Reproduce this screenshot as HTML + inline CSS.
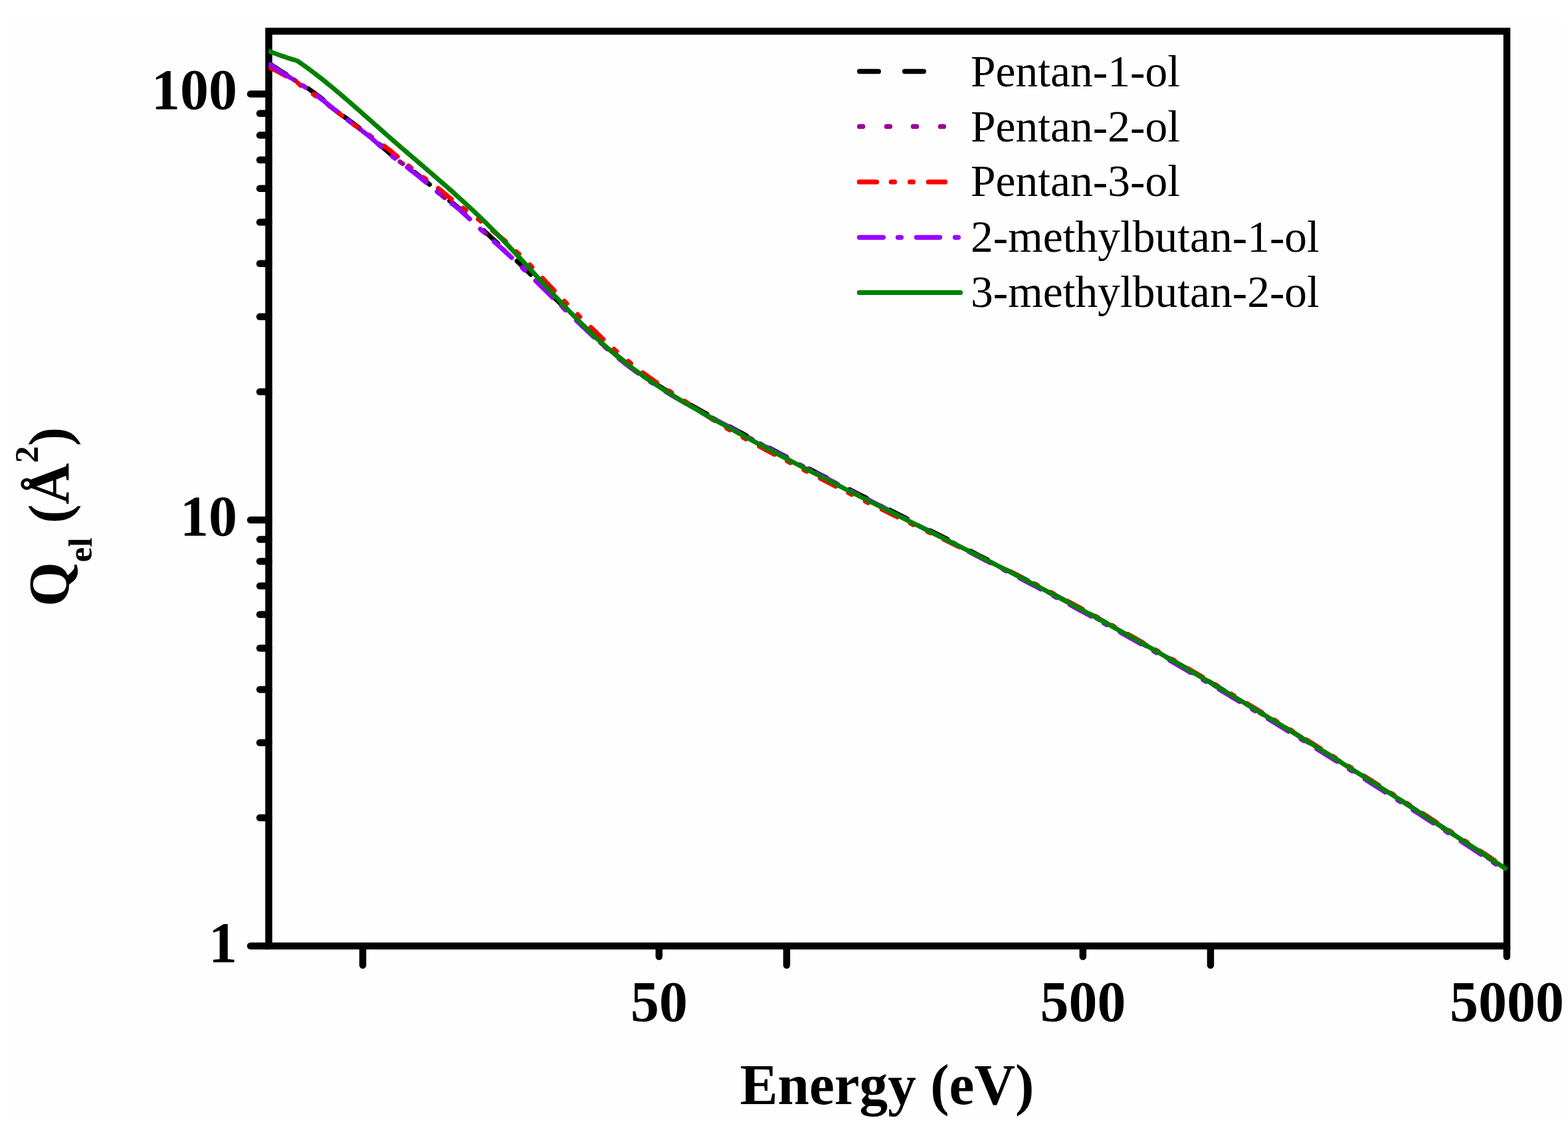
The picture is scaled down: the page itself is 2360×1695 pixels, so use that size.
<!DOCTYPE html>
<html><head><meta charset="utf-8"><style>html,body{margin:0;padding:0;background:#fff;overflow:hidden}svg{display:block}</style></head>
<body><svg width="2360" height="1695" viewBox="0 0 2360 1695">
<rect width="2360" height="1695" fill="#fff"/>
<rect x="14" y="32" width="2338" height="1657" fill="#fefefe"/>
<rect x="404.5" y="47" width="1863.5" height="1377" fill="none" stroke="#000" stroke-width="10.5" stroke-linejoin="miter"/>
<path d="M404.5,1424.0H377.0M404.5,1231.0H391.0M404.5,1118.0H391.0M404.5,1037.9H391.0M404.5,975.8H391.0M404.5,925.0H391.0M404.5,882.1H391.0M404.5,844.9H391.0M404.5,812.1H391.0M404.5,782.8H377.0M404.5,589.7H391.0M404.5,476.8H391.0M404.5,396.7H391.0M404.5,334.5H391.0M404.5,283.8H391.0M404.5,240.8H391.0M404.5,203.6H391.0M404.5,170.8H391.0M404.5,141.5H377.0M546.0,1424V1453M991.9,1424V1440M1184.0,1424V1453M1629.9,1424V1440M1822.0,1424V1453M2267.9,1424V1440" stroke="#000" stroke-width="10.5" stroke-linecap="round" fill="none"/>
<defs><clipPath id="cp"><rect x="404" y="0" width="1865" height="1695"/></clipPath><clipPath id="cp2"><rect x="404" y="0" width="1862" height="1695"/></clipPath></defs>
<g fill="none" stroke-width="7.0" stroke-linejoin="round">
<g clip-path="url(#cp2)">
<path d="M404.0,94.3 408.0,97.1 412.0,99.8 416.0,102.5 420.0,105.1 424.0,107.7 428.0,110.3 432.0,112.8 436.0,115.3 440.0,117.7 444.0,120.1 447.2,122.0 450.0,124.0 453.0,125.9 456.0,127.9 459.0,129.9 462.0,131.9 465.0,134.0 468.0,136.2 471.0,138.4 474.0,140.6 477.0,142.8 480.0,145.1 483.0,147.4 486.0,149.8 489.0,152.1 492.0,154.5 495.0,156.9 498.0,159.3 501.0,161.7 504.0,164.1 507.0,166.6 510.0,169.0 513.0,171.5 516.0,174.0 519.0,176.4 522.0,178.6 525.0,180.8 528.0,183.0 531.0,185.3 534.0,187.5 537.0,189.7 540.0,192.0 543.0,194.2 546.0,196.5 549.0,198.8 552.0,201.1 555.0,203.3 558.0,205.7 561.0,208.4 564.0,211.1 567.0,213.7 570.0,216.4 573.0,219.0 576.0,221.7 579.0,224.3 582.0,227.0 585.0,229.6 588.0,232.2 591.0,234.6 594.0,236.7 597.0,238.9 600.0,241.0 603.0,243.2 606.0,245.3 609.0,247.4 612.0,249.8 615.0,252.2 618.0,254.5 621.0,256.9 624.0,259.2 627.0,261.5 630.0,263.9 633.0,266.4 636.0,268.9 639.0,271.4 642.0,273.9 645.0,276.5 648.0,279.0 651.0,281.5 654.0,284.0 657.0,286.5 660.0,289.1 663.0,291.6 666.0,294.1 669.0,296.6 672.0,298.8 675.0,301.1 678.0,303.3 681.0,305.6 684.0,307.9 687.0,310.2 690.0,312.8 693.0,315.2 696.0,317.6 699.0,320.0 702.0,322.7 705.0,325.5 708.0,328.2 711.0,331.0 714.0,333.9 717.0,336.7 720.0,339.6 723.0,342.3 726.0,345.0 729.0,347.8 732.0,350.5 735.0,353.3 738.0,356.1 741.0,359.0 744.0,361.6 747.0,364.3 750.0,367.0 753.0,369.7 756.0,372.4 759.0,375.1 762.0,377.9 765.0,380.7 768.0,383.4 771.0,386.3 774.0,389.1 777.0,392.0 780.0,394.9 783.0,397.8 786.0,400.7 789.0,403.6 792.0,406.5 795.0,409.4 798.0,412.3 801.0,415.2 804.0,418.2 807.0,421.1 810.0,424.1 813.0,427.1 816.0,430.0 819.0,433.0 822.0,436.0 825.0,438.9 828.0,441.9 831.0,444.8 834.0,447.7 837.0,450.7 840.0,453.6 843.0,456.5 846.0,459.4 849.0,462.4 852.0,465.3 855.0,468.2 858.0,471.1 861.0,474.0 864.0,476.9 867.0,479.8 870.0,482.6 873.0,485.4 876.0,488.2 879.0,491.0 882.0,493.8 885.0,496.7 888.0,499.6 891.0,502.4 894.0,505.2 897.0,508.0 900.0,510.8 903.0,513.5 906.0,516.1 909.0,518.8 912.0,521.4 915.0,524.0 918.0,526.5 921.0,529.0 924.0,531.5 927.0,534.0 930.0,536.4 933.0,538.8 936.0,541.2 939.0,543.5 942.0,545.8 945.0,548.1 948.0,550.4 951.0,552.6 954.0,554.8 957.0,557.0 960.0,559.2 963.0,561.3 966.0,563.5 969.0,565.6 972.0,567.6 975.0,569.7 978.0,571.7 981.0,573.7 984.0,575.7 987.0,577.7 990.0,579.7 993.0,581.6 996.0,583.5 999.0,585.5 1000.0,586.1 1008.0,591.0 1016.0,595.9 1024.0,600.6 1032.0,605.3 1040.0,609.9 1048.0,614.4 1056.0,618.9 1064.0,623.3 1072.0,627.8 1080.0,632.1 1088.0,636.5 1096.0,640.8 1104.0,645.2 1112.0,649.6 1120.0,653.9 1128.0,658.3 1136.0,662.6 1144.0,666.9 1152.0,671.2 1160.0,675.4 1168.0,679.7 1176.0,683.9 1184.0,688.1 1192.0,692.3 1200.0,696.5 1208.0,700.6 1216.0,704.8 1224.0,708.9 1232.0,713.0 1240.0,717.1 1248.0,721.2 1256.0,725.3 1264.0,729.4 1272.0,733.5 1280.0,737.5 1288.0,741.6 1296.0,745.6 1304.0,749.7 1312.0,753.8 1320.0,757.8 1328.0,761.9 1336.0,766.0 1344.0,770.1 1352.0,774.1 1360.0,778.2 1368.0,782.3 1376.0,786.3 1384.0,790.4 1392.0,794.5 1400.0,798.5 1408.0,802.6 1416.0,806.7 1424.0,810.7 1432.0,814.8 1440.0,818.9 1448.0,823.0 1456.0,827.1 1464.0,831.2 1472.0,835.3 1480.0,839.4 1488.0,843.5 1496.0,847.7 1504.0,851.8 1512.0,855.9 1520.0,860.1 1528.0,864.2 1536.0,868.4 1544.0,872.6 1552.0,876.8 1560.0,881.0 1568.0,885.2 1576.0,889.5 1584.0,893.7 1592.0,898.0 1600.0,902.3 1608.0,906.6 1616.0,910.9 1624.0,915.2 1632.0,919.5 1640.0,923.9 1648.0,928.3 1656.0,932.6 1664.0,937.1 1672.0,941.5 1680.0,945.9 1688.0,950.4 1696.0,954.8 1704.0,959.3 1712.0,963.8 1720.0,968.4 1728.0,972.9 1736.0,977.5 1744.0,982.0 1752.0,986.6 1760.0,991.2 1768.0,995.8 1776.0,1000.5 1784.0,1005.1 1792.0,1009.8 1800.0,1014.5 1808.0,1019.2 1816.0,1023.9 1824.0,1028.6 1832.0,1033.3 1840.0,1038.1 1848.0,1042.9 1856.0,1047.6 1864.0,1052.4 1872.0,1057.2 1880.0,1062.1 1888.0,1066.9 1896.0,1071.7 1904.0,1076.6 1912.0,1081.5 1920.0,1086.4 1928.0,1091.3 1936.0,1096.2 1944.0,1101.1 1952.0,1106.0 1960.0,1111.0 1968.0,1115.9 1976.0,1120.9 1984.0,1125.9 1992.0,1130.9 2000.0,1135.9 2008.0,1140.9 2016.0,1145.9 2024.0,1151.0 2032.0,1156.0 2040.0,1161.1 2048.0,1166.1 2056.0,1171.2 2064.0,1176.3 2072.0,1181.4 2080.0,1186.5 2088.0,1191.6 2096.0,1196.8 2104.0,1201.9 2112.0,1207.0 2120.0,1212.2 2128.0,1217.4 2136.0,1222.5 2144.0,1227.7 2152.0,1232.9 2160.0,1238.1 2168.0,1243.3 2176.0,1248.5 2184.0,1253.7 2192.0,1259.0 2200.0,1264.2 2208.0,1269.4 2216.0,1274.7 2224.0,1279.9 2232.0,1285.2 2240.0,1290.5 2248.0,1295.7 2256.0,1301.0 2264.0,1306.3 2268.0,1309.0" stroke="#000" stroke-linecap="round" stroke-dasharray="29.00 39.00" stroke-dashoffset="-3.5"/>
<path d="M404.0,95.3 408.0,98.1 412.0,100.8 416.0,103.5 420.0,106.1 424.0,108.7 428.0,111.3 432.0,113.8 436.0,116.3 440.0,118.7 444.0,121.1 447.2,123.0 450.0,125.0 453.0,126.9 456.0,128.9 459.0,130.9 462.0,132.9 465.0,135.0 468.0,137.2 471.0,139.4 474.0,141.6 477.0,143.8 480.0,146.1 483.0,148.4 486.0,150.8 489.0,153.1 492.0,155.5 495.0,157.9 498.0,160.3 501.0,162.7 504.0,165.1 507.0,167.6 510.0,170.0 513.0,172.5 516.0,175.0 519.0,177.4 522.0,179.6 525.0,181.8 528.0,184.0 531.0,186.3 534.0,188.5 537.0,190.7 540.0,193.0 543.0,195.2 546.0,197.5 549.0,199.8 552.0,202.1 555.0,204.3 558.0,206.7 561.0,209.4 564.0,212.1 567.0,214.7 570.0,217.4 573.0,220.0 576.0,222.7 579.0,225.3 582.0,228.0 585.0,230.6 588.0,233.2 591.0,235.6 594.0,237.7 597.0,239.9 600.0,242.0 603.0,244.2 606.0,246.3 609.0,248.4 612.0,250.8 615.0,253.2 618.0,255.5 621.0,257.9 624.0,260.2 627.0,262.5 630.0,264.9 633.0,267.4 636.0,269.9 639.0,272.4 642.0,274.9 645.0,277.5 648.0,280.0 651.0,282.5 654.0,285.0 657.0,287.5 660.0,290.1 663.0,292.6 666.0,295.1 669.0,297.6 672.0,299.8 675.0,302.1 678.0,304.3 681.0,306.6 684.0,308.9 687.0,311.2 690.0,313.8 693.0,316.5 696.0,319.2 699.0,321.9 702.0,324.7 705.0,327.4 708.0,330.2 711.0,333.0 714.0,335.8 717.0,338.7 720.0,341.5 723.0,344.2 726.0,347.0 729.0,349.7 732.0,352.5 735.0,355.2 738.0,358.1 741.0,360.9 744.0,363.5 747.0,366.2 750.0,368.8 753.0,371.5 756.0,374.3 759.0,377.0 762.0,379.7 765.0,382.5 768.0,385.3 771.0,388.1 774.0,390.9 777.0,393.8 780.0,396.7 783.0,399.5 786.0,402.4 789.0,405.3 792.0,408.2 795.0,411.2 798.0,414.1 801.0,417.0 804.0,419.9 807.0,422.9 810.0,425.8 813.0,428.8 816.0,431.7 819.0,434.7 822.0,437.7 825.0,440.6 828.0,443.5 831.0,446.5 834.0,449.4 837.0,452.3 840.0,455.2 843.0,458.1 846.0,461.0 849.0,464.0 852.0,466.9 855.0,469.8 858.0,472.7 861.0,475.6 864.0,478.5 867.0,481.4 870.0,484.2 873.0,487.0 876.0,489.8 879.0,492.5 882.0,495.4 885.0,498.3 888.0,501.1 891.0,504.0 894.0,506.7 897.0,509.5 900.0,512.3 903.0,515.0 906.0,517.6 909.0,520.3 912.0,522.9 915.0,525.4 918.0,528.0 921.0,530.5 924.0,533.0 927.0,535.4 930.0,537.8 933.0,540.2 936.0,542.6 939.0,544.9 942.0,547.2 945.0,549.5 948.0,551.7 951.0,554.0 954.0,556.2 957.0,558.4 960.0,560.5 963.0,562.7 966.0,564.8 969.0,566.9 972.0,569.0 975.0,571.0 978.0,573.0 981.0,575.0 984.0,577.0 987.0,579.0 990.0,581.0 993.0,582.9 996.0,584.8 999.0,586.7 1000.0,587.3 1008.0,592.3 1016.0,597.1 1024.0,601.8 1032.0,606.5 1040.0,611.1 1048.0,615.6 1056.0,620.0 1064.0,624.4 1072.0,628.8 1080.0,633.2 1088.0,637.5 1096.0,641.8 1104.0,646.2 1112.0,650.6 1120.0,654.9 1128.0,659.3 1136.0,663.6 1144.0,667.9 1152.0,672.2 1160.0,676.4 1168.0,680.7 1176.0,684.9 1184.0,689.1 1192.0,693.3 1200.0,697.5 1208.0,701.6 1216.0,705.8 1224.0,709.9 1232.0,714.0 1240.0,718.1 1248.0,722.2 1256.0,726.3 1264.0,730.4 1272.0,734.5 1280.0,738.5 1288.0,742.6 1296.0,746.6 1304.0,750.7 1312.0,754.8 1320.0,758.8 1328.0,762.9 1336.0,767.0 1344.0,771.1 1352.0,775.1 1360.0,779.2 1368.0,783.3 1376.0,787.3 1384.0,791.4 1392.0,795.5 1400.0,799.5 1408.0,803.6 1416.0,807.7 1424.0,811.7 1432.0,815.8 1440.0,819.9 1448.0,824.0 1456.0,828.1 1464.0,832.2 1472.0,836.3 1480.0,840.4 1488.0,844.5 1496.0,848.7 1504.0,852.8 1512.0,856.9 1520.0,861.1 1528.0,865.2 1536.0,869.4 1544.0,873.6 1552.0,877.8 1560.0,882.0 1568.0,886.2 1576.0,890.5 1584.0,894.7 1592.0,899.0 1600.0,903.3 1608.0,907.6 1616.0,911.9 1624.0,916.2 1632.0,920.5 1640.0,924.9 1648.0,929.3 1656.0,933.6 1664.0,938.1 1672.0,942.5 1680.0,946.9 1688.0,951.4 1696.0,955.8 1704.0,960.3 1712.0,964.8 1720.0,969.4 1728.0,973.9 1736.0,978.5 1744.0,983.0 1752.0,987.6 1760.0,992.2 1768.0,996.8 1776.0,1001.5 1784.0,1006.1 1792.0,1010.8 1800.0,1015.5 1808.0,1020.2 1816.0,1024.9 1824.0,1029.6 1832.0,1034.3 1840.0,1039.1 1848.0,1043.9 1856.0,1048.6 1864.0,1053.4 1872.0,1058.2 1880.0,1063.1 1888.0,1067.9 1896.0,1072.7 1904.0,1077.6 1912.0,1082.5 1920.0,1087.4 1928.0,1092.3 1936.0,1097.2 1944.0,1102.1 1952.0,1107.0 1960.0,1112.0 1968.0,1116.9 1976.0,1121.9 1984.0,1126.9 1992.0,1131.9 2000.0,1136.9 2008.0,1141.9 2016.0,1146.9 2024.0,1152.0 2032.0,1157.0 2040.0,1162.1 2048.0,1167.1 2056.0,1172.2 2064.0,1177.3 2072.0,1182.4 2080.0,1187.5 2088.0,1192.6 2096.0,1197.8 2104.0,1202.9 2112.0,1208.0 2120.0,1213.2 2128.0,1218.4 2136.0,1223.5 2144.0,1228.7 2152.0,1233.9 2160.0,1239.1 2168.0,1244.3 2176.0,1249.5 2184.0,1254.7 2192.0,1260.0 2200.0,1265.2 2208.0,1270.4 2216.0,1275.7 2224.0,1280.9 2232.0,1286.2 2240.0,1291.5 2248.0,1296.7 2256.0,1302.0 2264.0,1307.3 2268.0,1310.0" stroke="#990099" stroke-linecap="round" stroke-dasharray="5.00 35.70" stroke-dashoffset="-3.5"/>
<path d="M404.0,100.6 408.0,102.7 412.0,104.7 416.0,106.7 420.0,108.7 424.0,111.0 428.0,113.3 432.0,115.6 436.0,117.8 440.0,120.0 444.0,122.2 447.2,123.9 450.0,126.3 453.0,129.1 456.0,131.4 459.0,133.3 462.0,135.3 465.0,137.4 468.0,139.4 471.0,141.5 474.0,143.7 477.0,145.8 480.0,148.0 483.0,150.1 486.0,152.3 489.0,154.5 492.0,156.7 495.0,158.9 498.0,161.2 501.0,163.5 504.0,165.7 507.0,168.0 510.0,170.4 513.0,172.7 516.0,175.0 519.0,177.4 522.0,179.8 525.0,182.2 528.0,184.5 531.0,186.9 534.0,188.9 537.0,190.9 540.0,192.9 543.0,194.9 546.0,196.9 549.0,198.9 552.0,200.9 555.0,202.9 558.0,205.0 561.0,207.1 564.0,209.3 567.0,211.5 570.0,213.8 573.0,216.0 576.0,218.2 579.0,220.4 582.0,222.6 585.0,224.8 588.0,227.2 591.0,229.7 594.0,232.3 597.0,234.8 600.0,237.3 603.0,239.8 606.0,242.3 609.0,244.8 612.0,247.3 615.0,249.8 618.0,252.3 621.0,254.8 624.0,257.3 627.0,259.5 630.0,261.7 633.0,263.9 636.0,266.1 639.0,268.3 642.0,270.5 645.0,272.7 648.0,274.9 651.0,277.1 654.0,279.3 657.0,281.6 660.0,283.8 663.0,286.2 666.0,288.6 669.0,291.1 672.0,293.6 675.0,296.1 678.0,298.6 681.0,301.1 684.0,303.6 687.0,306.1 690.0,308.3 693.0,310.4 696.0,312.6 699.0,314.7 702.0,316.8 705.0,319.0 708.0,321.1 711.0,323.3 714.0,325.5 717.0,327.8 720.0,330.2 723.0,332.6 726.0,335.0 729.0,337.4 732.0,339.7 735.0,342.1 738.0,344.5 741.0,346.9 744.0,349.3 747.0,351.8 750.0,354.2 753.0,356.7 756.0,359.2 759.0,361.7 762.0,364.4 765.0,367.2 768.0,370.0 771.0,372.8 774.0,375.6 777.0,378.5 780.0,381.3 783.0,384.2 786.0,387.0 789.0,389.9 792.0,392.8 795.0,395.9 798.0,399.1 801.0,402.3 804.0,405.5 807.0,408.7 810.0,411.8 813.0,415.0 816.0,418.2 819.0,421.4 822.0,424.6 825.0,427.7 828.0,430.9 831.0,434.0 834.0,437.2 837.0,440.3 840.0,443.5 843.0,446.6 846.0,449.7 849.0,452.8 852.0,455.9 855.0,459.0 858.0,462.0 861.0,465.0 864.0,468.1 867.0,471.0 870.0,474.0 873.0,477.0 876.0,479.9 879.0,482.8 882.0,485.7 885.0,488.5 888.0,491.4 891.0,494.2 894.0,497.0 897.0,500.0 900.0,502.9 903.0,505.8 906.0,508.7 909.0,511.6 912.0,514.4 915.0,517.2 918.0,519.9 921.0,522.6 924.0,525.3 927.0,528.0 930.0,530.6 933.0,533.2 936.0,535.7 939.0,538.2 942.0,540.7 945.0,543.2 948.0,545.7 951.0,548.1 954.0,550.5 957.0,552.8 960.0,555.2 963.0,557.5 966.0,559.8 969.0,562.1 972.0,564.3 975.0,566.4 978.0,568.6 981.0,570.7 984.0,572.9 987.0,575.0 990.0,577.0 993.0,579.1 996.0,581.1 999.0,583.2 1000.0,583.8 1008.0,589.2 1016.0,594.4 1024.0,599.6 1032.0,604.7 1040.0,609.7 1048.0,615.1 1056.0,620.5 1064.0,625.8 1072.0,631.0 1080.0,636.0 1088.0,641.0 1096.0,646.0 1104.0,650.7 1112.0,655.1 1120.0,659.5 1128.0,663.8 1136.0,668.2 1144.0,672.5 1152.0,676.8 1160.0,681.1 1168.0,685.3 1176.0,689.6 1184.0,693.8 1192.0,698.0 1200.0,702.2 1208.0,706.4 1216.0,710.6 1224.0,714.7 1232.0,718.8 1240.0,723.0 1248.0,727.1 1256.0,731.2 1264.0,735.3 1272.0,739.4 1280.0,743.5 1288.0,747.5 1296.0,751.6 1304.0,755.6 1312.0,759.5 1320.0,763.4 1328.0,767.2 1336.0,771.1 1344.0,775.0 1352.0,778.9 1360.0,782.8 1368.0,786.6 1376.0,790.5 1384.0,794.4 1392.0,798.2 1400.0,802.1 1408.0,806.0 1416.0,809.9 1424.0,813.7 1432.0,817.6 1440.0,821.5 1448.0,825.4 1456.0,829.3 1464.0,833.1 1472.0,837.0 1480.0,840.9 1488.0,844.8 1496.0,848.7 1504.0,852.6 1512.0,856.5 1520.0,860.4 1528.0,864.3 1536.0,868.3 1544.0,872.2 1552.0,876.2 1560.0,880.2 1568.0,884.4 1576.0,888.6 1584.0,892.8 1592.0,897.1 1600.0,901.3 1608.0,905.6 1616.0,909.9 1624.0,914.2 1632.0,918.5 1640.0,922.9 1648.0,927.2 1656.0,931.6 1664.0,936.0 1672.0,940.4 1680.0,944.9 1688.0,949.3 1696.0,953.8 1704.0,958.3 1712.0,962.8 1720.0,967.3 1728.0,971.8 1736.0,976.4 1744.0,980.9 1752.0,985.5 1760.0,990.1 1768.0,994.7 1776.0,999.3 1784.0,1004.0 1792.0,1008.7 1800.0,1013.3 1808.0,1018.0 1816.0,1022.7 1824.0,1027.4 1832.0,1032.2 1840.0,1036.9 1848.0,1041.7 1856.0,1046.4 1864.0,1051.2 1872.0,1056.0 1880.0,1060.9 1888.0,1065.7 1896.0,1070.5 1904.0,1075.4 1912.0,1080.2 1920.0,1085.1 1928.0,1090.0 1936.0,1094.9 1944.0,1099.8 1952.0,1104.8 1960.0,1109.7 1968.0,1114.7 1976.0,1119.6 1984.0,1124.6 1992.0,1129.6 2000.0,1134.6 2008.0,1139.6 2016.0,1144.6 2024.0,1149.7 2032.0,1154.7 2040.0,1159.7 2048.0,1164.8 2056.0,1169.9 2064.0,1175.0 2072.0,1180.1 2080.0,1185.2 2088.0,1190.3 2096.0,1195.4 2104.0,1200.5 2112.0,1205.7 2120.0,1210.8 2128.0,1216.0 2136.0,1221.1 2144.0,1226.3 2152.0,1231.5 2160.0,1236.7 2168.0,1241.9 2176.0,1247.1 2184.0,1252.3 2192.0,1257.5 2200.0,1262.7 2208.0,1268.0 2216.0,1273.2 2224.0,1278.5 2232.0,1283.7 2240.0,1289.0 2248.0,1294.3 2256.0,1299.5 2264.0,1304.8 2268.0,1307.5" stroke="#f00" stroke-linecap="round" stroke-dasharray="26.00 21.70 5.30 23.00 5.00 22.80" stroke-dashoffset="-3.5"/>
<path d="M404.0,95.3 408.0,98.1 412.0,100.8 416.0,103.5 420.0,106.1 424.0,108.8 428.0,111.3 432.0,113.9 436.0,116.3 440.0,118.8 444.0,121.2 447.2,123.1 450.0,125.0 453.0,127.0 456.0,129.0 459.0,131.0 462.0,133.0 465.0,135.1 468.0,137.3 471.0,139.5 474.0,141.7 477.0,144.0 480.0,146.3 483.0,148.6 486.0,150.9 489.0,153.3 492.0,155.6 495.0,158.0 498.0,160.4 501.0,162.9 504.0,165.3 507.0,167.8 510.0,170.2 513.0,172.7 516.0,175.2 519.0,177.6 522.0,179.8 525.0,182.0 528.0,184.2 531.0,186.5 534.0,188.7 537.0,190.9 540.0,193.2 543.0,195.5 546.0,197.7 549.0,200.0 552.0,202.3 555.0,204.6 558.0,207.0 561.0,209.7 564.0,212.3 567.0,215.0 570.0,217.7 573.0,220.3 576.0,223.0 579.0,225.6 582.0,228.3 585.0,230.9 588.0,233.6 591.0,235.9 594.0,238.0 597.0,240.2 600.0,242.4 603.0,244.5 606.0,246.7 609.0,248.8 612.0,251.2 615.0,253.5 618.0,255.9 621.0,258.2 624.0,260.6 627.0,262.9 630.0,265.3 633.0,267.8 636.0,270.3 639.0,272.8 642.0,275.3 645.0,277.9 648.0,280.4 651.0,282.9 654.0,285.4 657.0,287.9 660.0,290.5 663.0,293.0 666.0,295.6 669.0,298.0 672.0,300.3 675.0,302.5 678.0,304.8 681.0,307.1 684.0,309.4 687.0,311.7 690.0,314.2 693.0,316.9 696.0,319.7 699.0,322.4 702.0,325.2 705.0,327.9 708.0,330.7 711.0,333.5 714.0,336.4 717.0,339.2 720.0,342.1 723.0,344.8 726.0,347.5 729.0,350.2 732.0,353.0 735.0,355.8 738.0,358.6 741.0,361.4 744.0,364.1 747.0,366.7 750.0,369.4 753.0,372.1 756.0,374.8 759.0,377.6 762.0,380.3 765.0,383.1 768.0,385.9 771.0,388.7 774.0,391.5 777.0,394.4 780.0,397.3 783.0,400.2 786.0,403.1 789.0,406.0 792.0,408.9 795.0,411.8 798.0,414.7 801.0,417.7 804.0,420.6 807.0,423.5 810.0,426.5 813.0,429.5 816.0,432.4 819.0,435.4 822.0,438.4 825.0,441.3 828.0,444.3 831.0,447.2 834.0,450.1 837.0,453.0 840.0,456.0 843.0,458.9 846.0,461.8 849.0,464.7 852.0,467.7 855.0,470.6 858.0,473.5 861.0,476.4 864.0,479.3 867.0,482.1 870.0,485.0 873.0,487.8 876.0,490.6 879.0,493.3 882.0,496.2 885.0,499.1 888.0,501.9 891.0,504.8 894.0,507.6 897.0,510.3 900.0,513.1 903.0,515.8 906.0,518.5 909.0,521.1 912.0,523.7 915.0,526.3 918.0,528.8 921.0,531.4 924.0,533.8 927.0,536.3 930.0,538.7 933.0,541.1 936.0,543.5 939.0,545.8 942.0,548.1 945.0,550.4 948.0,552.7 951.0,554.9 954.0,557.1 957.0,559.3 960.0,561.5 963.0,563.6 966.0,565.7 969.0,567.8 972.0,569.9 975.0,572.0 978.0,574.0 981.0,576.0 984.0,578.0 987.0,580.0 990.0,581.9 993.0,583.9 996.0,585.8 999.0,587.7 1000.0,588.3 1008.0,593.2 1016.0,597.9 1024.0,602.6 1032.0,607.2 1040.0,611.7 1048.0,616.1 1056.0,620.5 1064.0,624.8 1072.0,629.1 1080.0,633.4 1088.0,637.6 1096.0,641.9 1104.0,646.2 1112.0,650.6 1120.0,654.9 1128.0,659.3 1136.0,663.6 1144.0,667.9 1152.0,672.2 1160.0,676.4 1168.0,680.7 1176.0,684.9 1184.0,689.1 1192.0,693.3 1200.0,697.5 1208.0,701.6 1216.0,705.8 1224.0,709.9 1232.0,714.0 1240.0,718.1 1248.0,722.2 1256.0,726.3 1264.0,730.4 1272.0,734.5 1280.0,738.5 1288.0,742.6 1296.0,746.6 1304.0,750.7 1312.0,754.8 1320.0,759.0 1328.0,763.1 1336.0,767.3 1344.0,771.4 1352.0,775.5 1360.0,779.7 1368.0,783.8 1376.0,787.9 1384.0,792.0 1392.0,796.2 1400.0,800.3 1408.0,804.4 1416.0,808.5 1424.0,812.7 1432.0,816.8 1440.0,821.0 1448.0,825.1 1456.0,829.3 1464.0,833.4 1472.0,837.6 1480.0,841.8 1488.0,845.9 1496.0,850.1 1504.0,854.3 1512.0,858.4 1520.0,862.6 1528.0,866.8 1536.0,870.9 1544.0,875.1 1552.0,879.3 1560.0,883.5 1568.0,887.8 1576.0,892.0 1584.0,896.3 1592.0,900.6 1600.0,904.9 1608.0,909.2 1616.0,913.5 1624.0,917.8 1632.0,922.1 1640.0,926.5 1648.0,930.9 1656.0,935.2 1664.0,939.7 1672.0,944.1 1680.0,948.5 1688.0,953.0 1696.0,957.5 1704.0,962.0 1712.0,966.5 1720.0,971.0 1728.0,975.6 1736.0,980.1 1744.0,984.7 1752.0,989.3 1760.0,993.9 1768.0,998.5 1776.0,1003.2 1784.0,1007.8 1792.0,1012.5 1800.0,1017.2 1808.0,1021.9 1816.0,1026.6 1824.0,1031.3 1832.0,1036.1 1840.0,1040.8 1848.0,1045.6 1856.0,1050.4 1864.0,1055.2 1872.0,1060.0 1880.0,1064.8 1888.0,1069.7 1896.0,1074.5 1904.0,1079.4 1912.0,1084.2 1920.0,1089.1 1928.0,1094.0 1936.0,1099.0 1944.0,1103.9 1952.0,1108.8 1960.0,1113.8 1968.0,1118.7 1976.0,1123.7 1984.0,1128.7 1992.0,1133.7 2000.0,1138.7 2008.0,1143.7 2016.0,1148.8 2024.0,1153.8 2032.0,1158.9 2040.0,1163.9 2048.0,1169.0 2056.0,1174.1 2064.0,1179.2 2072.0,1184.3 2080.0,1189.4 2088.0,1194.5 2096.0,1199.6 2104.0,1204.8 2112.0,1209.9 2120.0,1215.1 2128.0,1220.3 2136.0,1225.4 2144.0,1230.6 2152.0,1235.8 2160.0,1241.0 2168.0,1246.2 2176.0,1251.4 2184.0,1256.7 2192.0,1261.9 2200.0,1267.1 2208.0,1272.4 2216.0,1277.6 2224.0,1282.9 2232.0,1288.2 2240.0,1293.4 2248.0,1298.7 2256.0,1304.0 2264.0,1309.3 2268.0,1312.0" stroke="#9900ff" stroke-linecap="round" stroke-dasharray="36.00 22.00 5.00 23.00" stroke-dashoffset="-3.5"/>
</g>
<path d="M404.0,76.6 408.0,78.2 412.0,79.7 416.0,81.2 420.0,82.7 424.0,84.1 428.0,85.4 432.0,86.8 436.0,88.1 440.0,89.3 444.0,90.5 447.2,91.5 450.0,93.3 453.0,95.4 456.0,97.5 459.0,99.6 462.0,101.8 465.0,104.0 468.0,106.2 471.0,108.5 474.0,110.8 477.0,113.1 480.0,115.4 483.0,117.8 486.0,120.1 489.0,122.5 492.0,125.0 495.0,127.4 498.0,129.9 501.0,132.4 504.0,134.8 507.0,137.4 510.0,139.9 513.0,142.4 516.0,145.0 519.0,147.6 522.0,150.1 525.0,152.7 528.0,155.3 531.0,157.9 534.0,160.6 537.0,163.2 540.0,165.8 543.0,168.5 546.0,171.1 549.0,173.8 552.0,176.4 555.0,179.1 558.0,181.7 561.0,184.4 564.0,187.1 567.0,189.7 570.0,192.4 573.0,195.0 576.0,197.7 579.0,200.3 582.0,203.0 585.0,205.6 588.0,208.2 591.0,210.9 594.0,213.5 597.0,216.1 600.0,218.7 603.0,221.3 606.0,223.9 609.0,226.4 612.0,229.0 615.0,231.6 618.0,234.2 621.0,236.8 624.0,239.3 627.0,241.9 630.0,244.5 633.0,247.0 636.0,249.6 639.0,252.2 642.0,254.7 645.0,257.3 648.0,259.9 651.0,262.5 654.0,265.1 657.0,267.7 660.0,270.3 663.0,272.9 666.0,275.5 669.0,278.1 672.0,280.7 675.0,283.4 678.0,286.0 681.0,288.7 684.0,291.4 687.0,294.1 690.0,296.8 693.0,299.5 696.0,302.2 699.0,304.9 702.0,307.7 705.0,310.4 708.0,313.2 711.0,316.0 714.0,318.8 717.0,321.7 720.0,324.5 723.0,327.4 726.0,330.3 729.0,333.2 732.0,336.1 735.0,339.1 738.0,342.1 741.0,345.1 744.0,348.1 747.0,351.2 750.0,354.2 753.0,357.3 756.0,360.4 759.0,363.5 762.0,366.7 765.0,369.8 768.0,373.0 771.0,376.2 774.0,379.4 777.0,382.6 780.0,385.8 783.0,389.0 786.0,392.3 789.0,395.5 792.0,398.8 795.0,402.0 798.0,405.3 801.0,408.5 804.0,411.8 807.0,415.1 810.0,418.3 813.0,421.6 816.0,424.8 819.0,428.1 822.0,431.4 825.0,434.6 828.0,437.8 831.0,441.1 834.0,444.3 837.0,447.5 840.0,450.7 843.0,453.9 846.0,457.1 849.0,460.3 852.0,463.4 855.0,466.6 858.0,469.7 861.0,472.8 864.0,475.9 867.0,478.9 870.0,482.0 873.0,485.0 876.0,488.0 879.0,491.0 882.0,493.9 885.0,496.8 888.0,499.7 891.0,502.6 894.0,505.4 897.0,508.3 900.0,511.0 903.0,513.8 906.0,516.5 909.0,519.2 912.0,521.8 915.0,524.4 918.0,527.0 921.0,529.6 924.0,532.1 927.0,534.6 930.0,537.0 933.0,539.5 936.0,541.9 939.0,544.2 942.0,546.6 945.0,548.9 948.0,551.2 951.0,553.5 954.0,555.7 957.0,557.9 960.0,560.1 963.0,562.3 966.0,564.4 969.0,566.6 972.0,568.7 975.0,570.8 978.0,572.8 981.0,574.9 984.0,576.9 987.0,578.9 990.0,580.9 993.0,582.8 996.0,584.8 999.0,586.7 1000.0,587.3 1008.0,592.4 1016.0,597.3 1024.0,602.2 1032.0,607.0 1040.0,611.7 1048.0,616.3 1056.0,620.9 1064.0,625.4 1072.0,629.9 1080.0,634.4 1088.0,638.8 1096.0,643.3 1104.0,647.7 1112.0,652.1 1120.0,656.4 1128.0,660.8 1136.0,665.1 1144.0,669.4 1152.0,673.7 1160.0,677.9 1168.0,682.2 1176.0,686.4 1184.0,690.6 1192.0,694.8 1200.0,699.0 1208.0,703.1 1216.0,707.3 1224.0,711.4 1232.0,715.5 1240.0,719.6 1248.0,723.7 1256.0,727.8 1264.0,731.9 1272.0,736.0 1280.0,740.0 1288.0,744.1 1296.0,748.1 1304.0,752.1 1312.0,756.2 1320.0,760.2 1328.0,764.2 1336.0,768.2 1344.0,772.2 1352.0,776.2 1360.0,780.3 1368.0,784.3 1376.0,788.3 1384.0,792.3 1392.0,796.3 1400.0,800.3 1408.0,804.3 1416.0,808.3 1424.0,812.3 1432.0,816.3 1440.0,820.4 1448.0,824.4 1456.0,828.4 1464.0,832.5 1472.0,836.5 1480.0,840.6 1488.0,844.6 1496.0,848.7 1504.0,852.8 1512.0,856.9 1520.0,861.0 1528.0,865.1 1536.0,869.2 1544.0,873.4 1552.0,877.5 1560.0,881.7 1568.0,885.9 1576.0,890.1 1584.0,894.3 1592.0,898.6 1600.0,902.8 1608.0,907.1 1616.0,911.4 1624.0,915.7 1632.0,920.0 1640.0,924.4 1648.0,928.7 1656.0,933.1 1664.0,937.5 1672.0,941.9 1680.0,946.4 1688.0,950.8 1696.0,955.3 1704.0,959.8 1712.0,964.3 1720.0,968.8 1728.0,973.3 1736.0,977.9 1744.0,982.4 1752.0,987.0 1760.0,991.6 1768.0,996.2 1776.0,1000.8 1784.0,1005.5 1792.0,1010.2 1800.0,1014.8 1808.0,1019.5 1816.0,1024.2 1824.0,1028.9 1832.0,1033.7 1840.0,1038.4 1848.0,1043.2 1856.0,1047.9 1864.0,1052.7 1872.0,1057.5 1880.0,1062.4 1888.0,1067.2 1896.0,1072.0 1904.0,1076.9 1912.0,1081.7 1920.0,1086.6 1928.0,1091.5 1936.0,1096.4 1944.0,1101.3 1952.0,1106.3 1960.0,1111.2 1968.0,1116.2 1976.0,1121.1 1984.0,1126.1 1992.0,1131.1 2000.0,1136.1 2008.0,1141.1 2016.0,1146.1 2024.0,1151.2 2032.0,1156.2 2040.0,1161.2 2048.0,1166.3 2056.0,1171.4 2064.0,1176.5 2072.0,1181.6 2080.0,1186.7 2088.0,1191.8 2096.0,1196.9 2104.0,1202.0 2112.0,1207.2 2120.0,1212.3 2128.0,1217.5 2136.0,1222.6 2144.0,1227.8 2152.0,1233.0 2160.0,1238.2 2168.0,1243.4 2176.0,1248.6 2184.0,1253.8 2192.0,1259.0 2200.0,1264.2 2208.0,1269.5 2216.0,1274.7 2224.0,1280.0 2232.0,1285.2 2240.0,1290.5 2248.0,1295.8 2256.0,1301.0 2264.0,1306.3 2268.0,1309.0" stroke="#008000" clip-path="url(#cp)"/>
</g>
<g font-family="Liberation Serif, serif" font-weight="bold" font-size="86" fill="#000">
<text x="357" y="164" text-anchor="end">100</text>
<text x="357" y="806" text-anchor="end">10</text>
<text x="357" y="1448" text-anchor="end">1</text>
<text x="991.9" y="1537" text-anchor="middle">50</text>
<text x="1629.9" y="1537" text-anchor="middle">500</text>
<text x="2267.9" y="1537" text-anchor="middle">5000</text>
<text transform="translate(1335,1662) scale(0.98,1)" text-anchor="middle" font-size="87">Energy (eV)</text>
<text transform="translate(103,778) rotate(-90)" text-anchor="middle" font-size="86">Q<tspan font-size="51" dy="35">el</tspan><tspan dy="-35"> (Å</tspan><tspan font-size="51" dy="-46">2</tspan><tspan dy="46">)</tspan></text>
</g>
<path d="M1293.6,107.5H1322.4M1361.6,107.5H1390.4" stroke="#000" stroke-width="7.3" stroke-linecap="round" fill="none"/>
<text x="1461" y="129.5" font-family="Liberation Serif, serif" font-size="67.5" fill="#000">Pentan-1-ol</text>
<path d="M1293.6,190.4H1298.6M1334.4,190.4H1339.5M1374.5,190.4H1379.6M1415.5,190.4H1420.4" stroke="#990099" stroke-width="7.3" stroke-linecap="round" fill="none"/>
<text x="1461" y="212.6" font-family="Liberation Serif, serif" font-size="67.5" fill="#000">Pentan-2-ol</text>
<path d="M1293.4,273.9H1319.4M1341.3,273.9H1346.4M1369.6,273.9H1374.4M1397.4,273.9H1422.5" stroke="#f00" stroke-width="7.3" stroke-linecap="round" fill="none"/>
<text x="1461" y="295.3" font-family="Liberation Serif, serif" font-size="67.5" fill="#000">Pentan-3-ol</text>
<path d="M1293.4,357.3H1329.4M1351.5,357.3H1356.4M1379.4,357.3H1414.5M1437.5,357.3H1442.4" stroke="#9900ff" stroke-width="7.3" stroke-linecap="round" fill="none"/>
<text x="1461" y="379" font-family="Liberation Serif, serif" font-size="67.5" fill="#000">2-methylbutan-1-ol</text>
<path d="M1293.4,440.4H1445.4" stroke="#008000" stroke-width="7.3" stroke-linecap="round" fill="none"/>
<text x="1461" y="462" font-family="Liberation Serif, serif" font-size="67.5" fill="#000">3-methylbutan-2-ol</text>
</svg></body></html>
